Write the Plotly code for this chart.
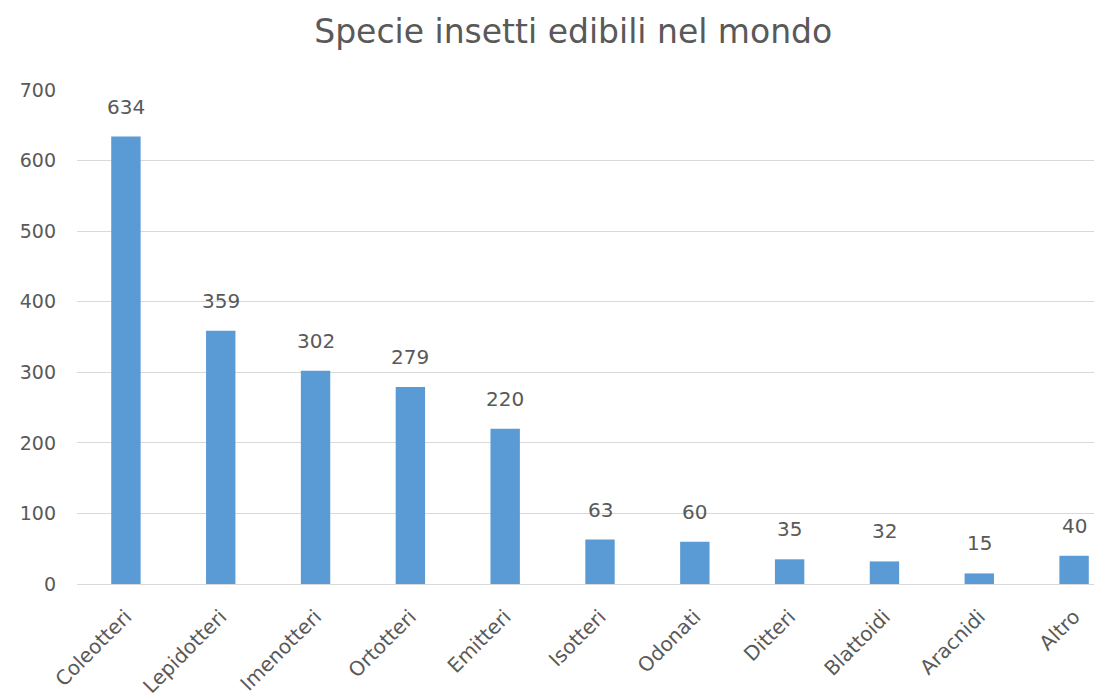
import plotly.graph_objects as go

categories = ["Coleotteri", "Lepidotteri", "Imenotteri", "Ortotteri", "Emitteri",
              "Isotteri", "Odonati", "Ditteri", "Blattoidi", "Aracnidi", "Altro"]
values = [634, 359, 302, 279, 220, 63, 60, 35, 32, 15, 40]
y_ticks = [0, 100, 200, 300, 400, 500, 600, 700]

FONT = "DejaVu Sans"
GRAY = "#595959"

fig = go.Figure()
fig.add_trace(go.Bar(
    x=categories, y=values,
    marker=dict(color="#5B9BD5", line=dict(width=0)),
    width=0.31,
    hoverinfo="x+y",
))

for c, v in zip(categories, values):
    fig.add_annotation(x=c, y=v, text=str(v), showarrow=False,
                       yanchor="bottom", yshift=16,
                       font=dict(family=FONT, size=20, color=GRAY))

fig.update_layout(
    width=1094, height=700,
    margin=dict(l=77, r=0, t=90, b=116),
    paper_bgcolor="white", plot_bgcolor="white",
    showlegend=False,
    title=dict(text="Specie insetti edibili nel mondo",
               x=0.524, xanchor="center", y=1 - 31 / 700, yanchor="middle",
               yref="container",
               font=dict(family=FONT, size=33, color=GRAY)),
    xaxis=dict(range=[-0.516, 10.21], tickangle=-45, showgrid=False,
               showline=True, linecolor="#d9d9d9", linewidth=1,
               tickfont=dict(family=FONT, size=20, color=GRAY),
               ticks="", automargin=False, ticklabelstandoff=12),
    yaxis=dict(range=[0, 700], tickvals=y_ticks, showgrid=True,
               gridcolor="#d9d9d9", gridwidth=1, zeroline=False,
               showline=False, ticks="",
               tickfont=dict(family=FONT, size=19, color=GRAY),
               automargin=False, ticklabelstandoff=20),
)

fig.write_html("out.html")
